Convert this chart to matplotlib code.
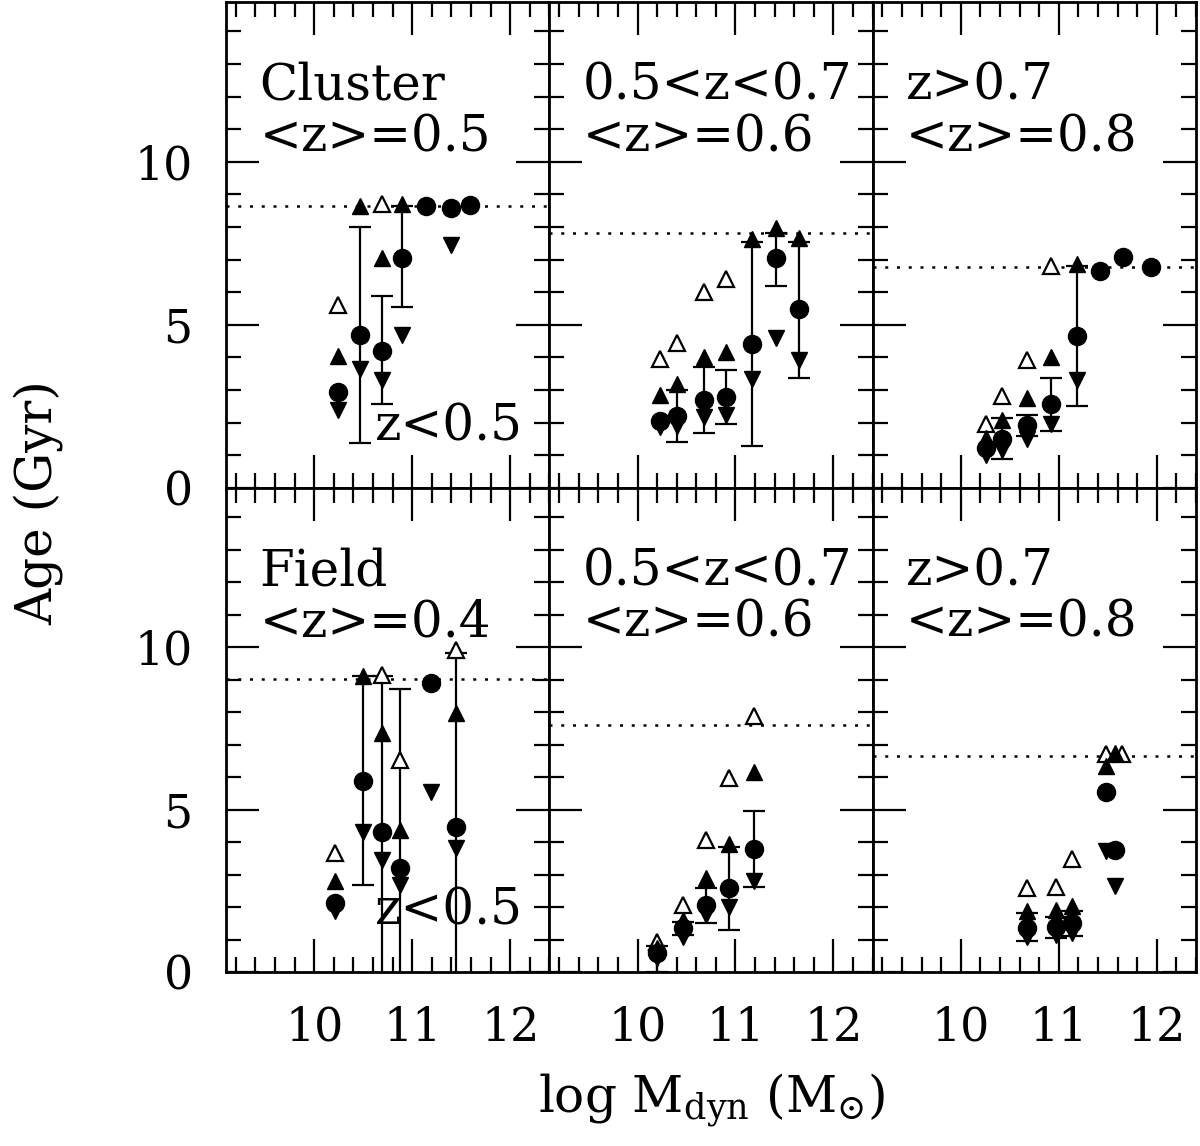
import numpy as np
import matplotlib
matplotlib.use("Agg")
import matplotlib.pyplot as plt
from matplotlib.ticker import MultipleLocator

plt.rcParams["font.family"] = ["DejaVu Serif"]
plt.rcParams["mathtext.fontset"] = "dejavuserif"

nan = np.nan

# one set of small arrays per panel: x = log Mdyn, ages in Gyr
p1_x = [10.24, 10.47, 10.69, 10.90, 11.14, 11.40, 11.59]
p1_circ = [2.95, 4.70, 4.21, 7.05, 8.65, 8.57, 8.67]
p1_up = [4.05, 8.65, 7.05, 8.70, nan, nan, nan]
p1_down = [2.40, 3.65, 3.30, 4.70, nan, 7.46, nan]
p1_open = [5.62, nan, 8.70, nan, nan, nan, nan]
p1_lo = [nan, 1.36, 2.56, 5.54, nan, nan, nan]
p1_hi = [nan, 8.00, 5.87, 8.65, nan, nan, nan]
p1_line = 8.65

p2_x = [10.23, 10.40, 10.68, 10.90, 11.17, 11.41, 11.65]
p2_circ = [2.05, 2.20, 2.69, 2.79, 4.42, 7.05, 5.48]
p2_up = [2.84, 3.19, 4.01, 4.16, 7.63, 7.97, 7.66]
p2_down = [1.85, 1.90, 2.17, 2.22, 3.35, 4.60, 3.93]
p2_open = [3.96, 4.44, 6.00, 6.41, nan, nan, nan]
p2_lo = [nan, 1.41, 1.69, 1.97, 1.28, 6.20, 3.38]
p2_hi = [nan, 3.00, 3.72, 3.60, 7.55, 7.83, 7.55]
p2_line = 7.83

p3_x = [10.26, 10.42, 10.68, 10.92, 11.19, 11.42, 11.66, 11.94]
p3_circ = [1.21, 1.51, 1.92, 2.56, 4.67, 6.64, 7.09, 6.78]
p3_up = [1.54, 2.09, 2.74, 4.01, 6.86, nan, nan, nan]
p3_down = [1.00, 1.16, 1.51, 1.95, 3.30, nan, nan, nan]
p3_open = [1.97, 2.82, 3.91, 6.79, nan, nan, nan, nan]
p3_lo = [nan, 0.88, 1.58, 1.75, 2.50, nan, nan, nan]
p3_hi = [nan, 2.15, 2.23, 3.38, 6.80, nan, nan, nan]
p3_line = 6.78

p4_x = [10.21, 10.50, 10.69, 10.88, 11.19, 11.45]
p4_circ = [2.12, 5.87, 4.30, 3.22, 8.90, 4.47]
p4_up = [2.82, 9.10, 7.36, 4.38, nan, 7.98]
p4_down = [1.87, 4.33, 3.46, 2.69, 5.56, 3.82]
p4_open = [3.68, nan, 9.15, 6.54, nan, 9.90]
p4_lo = [nan, 2.69, -1.0, -1.0, nan, -1.0]
p4_hi = [nan, 9.10, 9.10, 8.72, nan, 9.83]
p4_line = 9.02

p5_x = [10.20, 10.46, 10.70, 10.93, 11.19]
p5_circ = [0.58, 1.35, 2.07, 2.59, 3.79]
p5_up = [0.75, 1.61, 2.89, 3.95, 6.15]
p5_down = [0.45, 1.10, 1.76, 2.02, 2.82]
p5_open = [0.94, 2.07, 4.07, 5.97, 7.89]
p5_lo = [0.00, 1.15, 1.53, 1.30, 2.62]
p5_hi = [0.80, 1.55, 2.59, 3.85, 4.97]
p5_line = 7.59

p6_x = [10.68, 10.97, 11.13, 11.48, 11.57, 11.64]
p6_circ = [1.35, 1.38, 1.51, 5.56, 3.75, nan]
p6_up = [1.87, 1.92, 2.04, 6.33, 6.75, nan]
p6_down = [1.10, 1.15, 1.20, 3.72, 2.64, nan]
p6_open = [2.59, 2.62, 3.48, 6.72, nan, 6.72]
p6_lo = [0.97, 1.04, 1.12, nan, nan, nan]
p6_hi = [1.81, 1.71, 1.87, nan, nan, nan]
p6_line = 6.66

panels = [
    (p1_x, p1_circ, p1_up, p1_down, p1_open, p1_lo, p1_hi, p1_line, "Cluster\n<z>=0.5", True),
    (p2_x, p2_circ, p2_up, p2_down, p2_open, p2_lo, p2_hi, p2_line, "0.5<z<0.7\n<z>=0.6", False),
    (p3_x, p3_circ, p3_up, p3_down, p3_open, p3_lo, p3_hi, p3_line, "z>0.7\n<z>=0.8", False),
    (p4_x, p4_circ, p4_up, p4_down, p4_open, p4_lo, p4_hi, p4_line, "Field\n<z>=0.4", True),
    (p5_x, p5_circ, p5_up, p5_down, p5_open, p5_lo, p5_hi, p5_line, "0.5<z<0.7\n<z>=0.6", False),
    (p6_x, p6_circ, p6_up, p6_down, p6_open, p6_lo, p6_hi, p6_line, "z>0.7\n<z>=0.8", False),
]

fig = plt.figure(figsize=(12, 11.46), dpi=100)
left, right = 226 / 1200, 1196 / 1200
top, mid, bot = 1 - 2 / 1146, 1 - 487.8 / 1146, 1 - 972.3 / 1146
w = (right - left) / 3

for i, (x, circ, up, down, opn, lo, hi, line, label, zlab) in enumerate(panels):
    row, col = divmod(i, 3)
    y0 = mid if row == 0 else bot
    h = (top - mid) if row == 0 else (mid - bot)
    ax = fig.add_axes([left + col * w, y0, w, h])
    ax.set_xlim(9.1, 12.4)
    ax.set_ylim(0, 14.9)

    x = np.array(x)
    lo, hi = np.array(lo), np.array(hi)
    ok = ~np.isnan(lo)
    mid_y = (lo[ok] + hi[ok]) / 2
    ax.errorbar(x[ok], mid_y, yerr=(hi[ok] - lo[ok]) / 2, fmt="none",
                ecolor="black", elinewidth=1.6, capsize=8, capthick=1.6, zorder=2)
    ax.axhline(line, color="black", ls=(0, (1.2, 3.5)), lw=1.8, zorder=1)

    ax.plot(x, opn, "^", ms=12, mfc="white", mec="black", mew=1.6, ls="none", zorder=3)
    ax.plot(x, up, "^", ms=12, color="black", ls="none", zorder=3)
    ax.plot(x, down, "v", ms=12, color="black", ls="none", zorder=3)
    ax.plot(x, circ, "o", ms=13, color="black", ls="none", zorder=4)

    ax.text(9.44, 10.33, label, fontsize=36, ha="left", va="baseline",
            linespacing=1.05)
    if zlab:
        ax.text(10.62, 1.46, "z<0.5", fontsize=36, ha="left", va="baseline")

    ax.xaxis.set_major_locator(MultipleLocator(1))
    ax.xaxis.set_minor_locator(MultipleLocator(0.2))
    ax.yaxis.set_major_locator(MultipleLocator(5))
    ax.yaxis.set_minor_locator(MultipleLocator(1))
    ax.tick_params(which="both", direction="in", top=True, right=True,
                   width=1.6, labelsize=33, pad=24)
    ax.tick_params(which="major", length=24)
    ax.tick_params(which="minor", length=11)
    for s in ax.spines.values():
        s.set_linewidth(2)
    if row == 0:
        ax.tick_params(labelbottom=False)
    if col != 0:
        ax.tick_params(labelleft=False)

fig.text(0.5 * (left + right), 1 - 1100 / 1146, r"log M$_{\rm dyn}$ (M$_{\mathrm{⊙}}$)",
         fontsize=36, ha="center", va="center")
fig.text(38 / 1200, 1 - 503 / 1146, "Age (Gyr)", fontsize=36, rotation=90,
         ha="center", va="center")

fig.savefig("out.png", dpi=100)
